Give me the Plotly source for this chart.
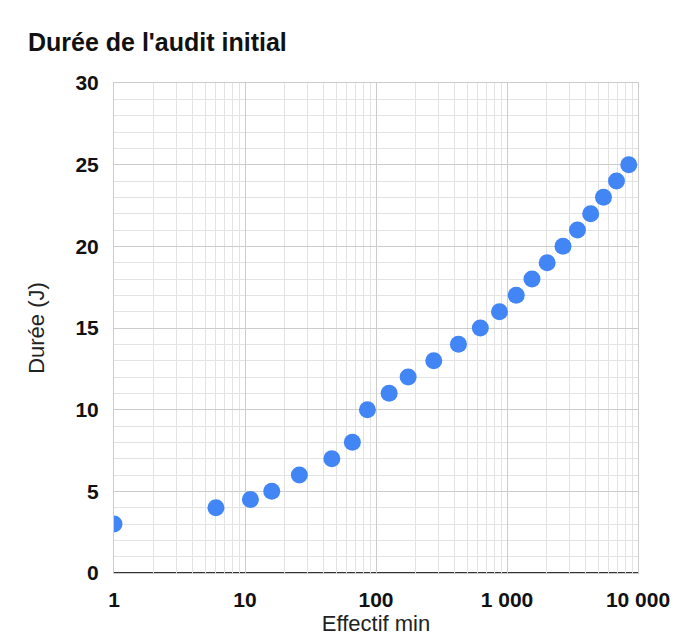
import plotly.graph_objects as go

effectif_min = [1, 6, 11, 16, 26, 46, 66, 86, 126, 176, 276, 426, 626, 876,
                1176, 1551, 2026, 2676, 3451, 4351, 5451, 6851, 8501]
duree_j = [3, 4, 4.5, 5, 6, 7, 8, 10, 11, 12, 13, 14, 15, 16,
           17, 18, 19, 20, 21, 22, 23, 24, 25]

x_tickvals = [1, 10, 100, 1000, 10000]
x_ticktext = ["1", "10", "100", "1 000", "10 000"]
y_tickvals = [0, 5, 10, 15, 20, 25, 30]

fig = go.Figure()
fig.add_trace(go.Scatter(
    x=effectif_min, y=duree_j, mode="markers",
    marker=dict(color="#4285F4", size=17, line=dict(width=0)),
    cliponaxis=True, showlegend=False,
))

font = "Liberation Sans, Arial, sans-serif"
fig.update_layout(
    width=692, height=642,
    margin=dict(l=106, r=62, t=75, b=77, autoexpand=False),
    paper_bgcolor="white", plot_bgcolor="white",
    font=dict(family=font, color="#222"),
    title=dict(text="<b>Durée de l'audit initial</b>", x=20 / 692, xanchor="left",
               y=1 - 34 / 642, yanchor="middle",
               font=dict(size=25, family=font, color="#111")),
    xaxis=dict(
        type="log", range=[0, 4], automargin=False,
        tickvals=x_tickvals, ticktext=x_ticktext,
        tickfont=dict(size=21, family=font, color="#111", weight="bold"),
        showgrid=True, gridcolor="#cccccc", gridwidth=1,
        minor=dict(dtick="D1", showgrid=True, gridcolor="#e3e3e3", gridwidth=1, ticks=""),
        showline=True, linecolor="#cccccc", linewidth=1, mirror=True,
        zeroline=False, ticks="", ticklabelstandoff=8,
        title=dict(text="Effectif min", font=dict(size=22, family=font, color="#222"), standoff=2),
    ),
    yaxis=dict(
        range=[0, 30], tickvals=y_tickvals, automargin=False,
        tickfont=dict(size=21, family=font, color="#111", weight="bold"),
        showgrid=True, gridcolor="#cccccc", gridwidth=1,
        minor=dict(dtick=1, showgrid=True, gridcolor="#e3e3e3", gridwidth=1, ticks=""),
        showline=True, linecolor="#cccccc", linewidth=1, mirror=True,
        zeroline=False, ticks="", ticklabelstandoff=10,
        title=dict(text="Durée (J)", font=dict(size=22, family=font, color="#222"), standoff=24),
    ),
)
fig.add_shape(type="line", xref="paper", yref="y", x0=0, x1=1, y0=0, y1=0,
              line=dict(color="#333333", width=2), layer="below")

fig.write_html("out.html")
